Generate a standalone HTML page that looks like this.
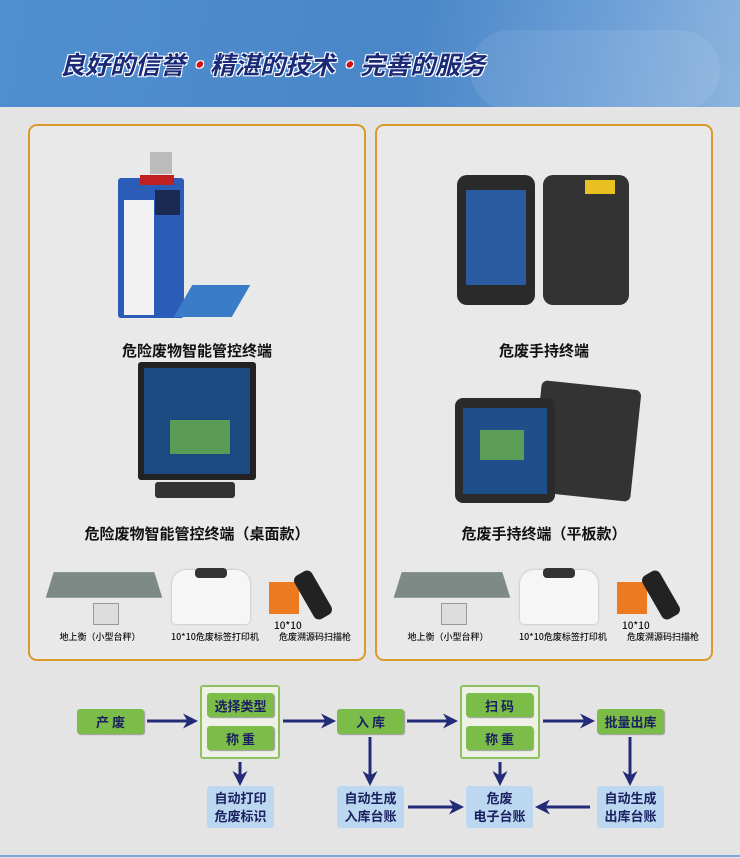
<!DOCTYPE html>
<html><head><meta charset="utf-8"><style>
*{margin:0;padding:0;box-sizing:border-box}
body{width:740px;height:858px;background:#e4e4e4;position:relative;overflow:hidden;font-family:"Liberation Sans","Noto Sans CJK SC",sans-serif}
.a{position:absolute}
.hdr{left:0;top:0;width:740px;height:107px;background:linear-gradient(100deg,#4f8fd0 0%,#4a86c8 55%,#6c9fd6 80%,#8cb4de 100%)}
.title{left:60px;top:46px;font-size:25px;font-weight:bold;font-style:italic;color:#1a2a78;text-shadow:1px 1px 0 #fff,-1px -1px 0 #fff,1px -1px 0 #fff,-1px 1px 0 #fff;font-family:"Noto Sans CJK SC",sans-serif}
.dot{color:#d01010}
.panel{border:2px solid #d99a2b;border-radius:9px;background:#e9e9e9}
.lbl{font-size:15px;font-weight:bold;color:#111;text-align:center;font-family:"Noto Sans CJK SC",sans-serif}
.sm{font-size:9px;color:#111;text-align:center;font-weight:500;font-family:"Noto Sans CJK SC",sans-serif}
.g{background:#7cbc48;border-radius:3px;color:#1a2060;font-weight:bold;font-size:13px;display:flex;align-items:center;justify-content:center;box-shadow:1px 1px 1px #999;font-family:"Noto Sans CJK SC",sans-serif}
.grp{border:2px solid #8fc060;border-radius:3px;background:#eef2e6}
.b{background:#bcd8f0;border-radius:3px;color:#1a2060;font-weight:bold;font-size:13px;display:flex;align-items:center;justify-content:center;text-align:center;line-height:18px;font-family:"Noto Sans CJK SC",sans-serif}
</style></head><body>
<div class="a hdr"></div>
<div class="a" style="left:470px;top:30px;width:250px;height:80px;border-radius:40px;background:rgba(255,255,255,0.08)"></div>
<div class="a title">良好的信誉<span class="dot">·</span>精湛的技术<span class="dot">·</span>完善的服务</div>

<div class="a panel" style="left:28px;top:124px;width:338px;height:537px"></div>
<div class="a panel" style="left:375px;top:124px;width:338px;height:537px"></div>

<div class="a" style="left:118px;top:178px;width:66px;height:140px;background:#2a5cb8;border-radius:3px"></div>
<div class="a" style="left:124px;top:200px;width:30px;height:115px;background:#f2f2f2"></div>
<div class="a" style="left:150px;top:152px;width:22px;height:22px;background:#bbb"></div>
<div class="a" style="left:140px;top:175px;width:34px;height:10px;background:#c02020"></div>
<div class="a" style="left:155px;top:190px;width:25px;height:25px;background:#1a2a50"></div>
<div class="a" style="left:183px;top:285px;width:58px;height:32px;background:#3a7cc8;transform:skewX(-30deg)"></div>
<div class="a lbl" style="left:28px;top:340px;width:338px">危险废物智能管控终端</div>

<div class="a" style="left:138px;top:362px;width:118px;height:118px;background:#222;border-radius:3px"></div>
<div class="a" style="left:144px;top:368px;width:106px;height:106px;background:#1a4a80"></div>
<div class="a" style="left:170px;top:420px;width:60px;height:34px;background:#6ab04a;opacity:.8"></div>
<div class="a" style="left:155px;top:482px;width:80px;height:16px;background:#333;border-radius:3px"></div>
<div class="a lbl" style="left:28px;top:523px;width:338px">危险废物智能管控终端（桌面款）</div>

<div class="a" style="left:457px;top:175px;width:78px;height:130px;background:#2a2a2a;border-radius:10px"></div>
<div class="a" style="left:466px;top:190px;width:60px;height:95px;background:#2a5aa0"></div>
<div class="a" style="left:543px;top:175px;width:86px;height:130px;background:#333;border-radius:10px"></div>
<div class="a" style="left:585px;top:180px;width:30px;height:14px;background:#e8c020"></div>
<div class="a lbl" style="left:375px;top:340px;width:338px">危废手持终端</div>

<div class="a" style="left:536px;top:385px;width:100px;height:112px;background:#333;border-radius:6px;transform:rotate(6deg)"></div>
<div class="a" style="left:455px;top:398px;width:100px;height:105px;background:#2b2b2b;border-radius:8px"></div>
<div class="a" style="left:463px;top:408px;width:84px;height:86px;background:#1f4f8a"></div>
<div class="a" style="left:480px;top:430px;width:44px;height:30px;background:#6ab04a;opacity:.8"></div>
<div class="a lbl" style="left:375px;top:523px;width:338px">危废手持终端（平板款）</div>

<div class="a" style="left:0;top:0">
 <div class="a" style="left:50px;top:570px;width:108px;height:28px;background:#7d8a86;transform:perspective(80px) rotateX(25deg)"></div>
 <div class="a" style="left:93px;top:603px;width:26px;height:22px;background:#ddd;border:1px solid #999"></div>
 <div class="a" style="left:172px;top:570px;width:78px;height:54px;background:#f6f6f6;border-radius:14px 14px 4px 4px;box-shadow:0 0 2px #aaa"></div>
 <div class="a" style="left:195px;top:568px;width:32px;height:10px;background:#333;border-radius:4px"></div>
 <div class="a" style="left:269px;top:582px;width:30px;height:32px;background:#ec7a20"></div>
 <div class="a" style="left:303px;top:570px;width:20px;height:50px;background:#222;border-radius:6px;transform:rotate(-30deg)"></div>
 <div class="a sm" style="left:274px;top:617px;font-size:10px">10*10</div>
 <div class="a sm" style="left:50px;top:630px;width:100px">地上衡（小型台秤）</div>
 <div class="a sm" style="left:160px;top:630px;width:110px">10*10危废标签打印机</div>
 <div class="a sm" style="left:270px;top:630px;width:90px">危废溯源码扫描枪</div>
</div>
<div class="a" style="left:348px;top:0">
 <div class="a" style="left:50px;top:570px;width:108px;height:28px;background:#7d8a86;transform:perspective(80px) rotateX(25deg)"></div>
 <div class="a" style="left:93px;top:603px;width:26px;height:22px;background:#ddd;border:1px solid #999"></div>
 <div class="a" style="left:172px;top:570px;width:78px;height:54px;background:#f6f6f6;border-radius:14px 14px 4px 4px;box-shadow:0 0 2px #aaa"></div>
 <div class="a" style="left:195px;top:568px;width:32px;height:10px;background:#333;border-radius:4px"></div>
 <div class="a" style="left:269px;top:582px;width:30px;height:32px;background:#ec7a20"></div>
 <div class="a" style="left:303px;top:570px;width:20px;height:50px;background:#222;border-radius:6px;transform:rotate(-30deg)"></div>
 <div class="a sm" style="left:274px;top:617px;font-size:10px">10*10</div>
 <div class="a sm" style="left:50px;top:630px;width:100px">地上衡（小型台秤）</div>
 <div class="a sm" style="left:160px;top:630px;width:110px">10*10危废标签打印机</div>
 <div class="a sm" style="left:270px;top:630px;width:90px">危废溯源码扫描枪</div>
</div>

<div class="a g" style="left:77px;top:709px;width:67px;height:25px">产 废</div>
<div class="a grp" style="left:200px;top:685px;width:80px;height:74px"></div>
<div class="a g" style="left:207px;top:693px;width:67px;height:24px">选择类型</div>
<div class="a g" style="left:207px;top:726px;width:67px;height:24px">称 重</div>
<div class="a g" style="left:337px;top:709px;width:67px;height:25px">入 库</div>
<div class="a grp" style="left:460px;top:685px;width:80px;height:74px"></div>
<div class="a g" style="left:466px;top:693px;width:67px;height:24px">扫 码</div>
<div class="a g" style="left:466px;top:726px;width:67px;height:24px">称 重</div>
<div class="a g" style="left:597px;top:709px;width:67px;height:25px">批量出库</div>
<div class="a b" style="left:207px;top:786px;width:67px;height:42px">自动打印<br>危废标识</div>
<div class="a b" style="left:337px;top:786px;width:67px;height:42px">自动生成<br>入库台账</div>
<div class="a b" style="left:466px;top:786px;width:67px;height:42px">危废<br>电子台账</div>
<div class="a b" style="left:597px;top:786px;width:67px;height:42px">自动生成<br>出库台账</div>
<svg class="a" style="left:0;top:0" width="740" height="858">
<defs><marker id="m" markerWidth="5" markerHeight="5" refX="3" refY="2.5" orient="auto"><path d="M0,0 L5,2.5 L0,5 L1.5,2.5z" fill="#232a78"/></marker></defs>
<g stroke="#232a78" stroke-width="3" fill="none" marker-end="url(#m)">
<line x1="147" y1="721" x2="192" y2="721"/>
<line x1="283" y1="721" x2="330" y2="721"/>
<line x1="407" y1="721" x2="452" y2="721"/>
<line x1="543" y1="721" x2="589" y2="721"/>
<line x1="240" y1="762" x2="240" y2="780"/>
<line x1="370" y1="737" x2="370" y2="780"/>
<line x1="500" y1="762" x2="500" y2="780"/>
<line x1="630" y1="737" x2="630" y2="780"/>
<line x1="408" y1="807" x2="458" y2="807"/>
<line x1="590" y1="807" x2="541" y2="807"/>
</g>
<line x1="0" y1="856" x2="740" y2="856" stroke="#7aa8d8" stroke-width="2"/>
</svg>
</body></html>
